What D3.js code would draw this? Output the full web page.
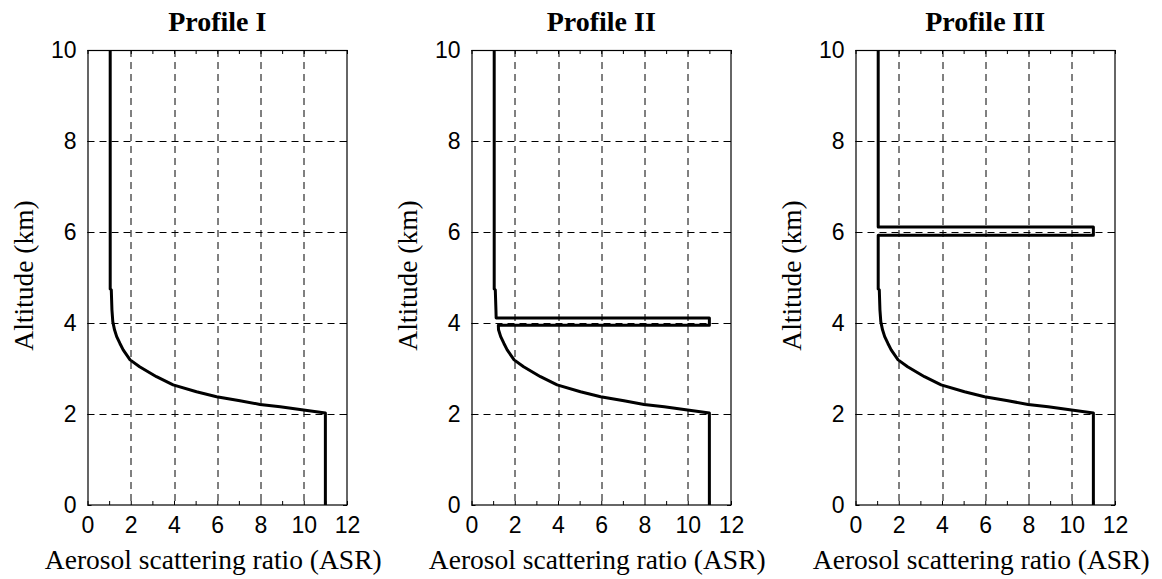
<!DOCTYPE html>
<html>
<head>
<meta charset="utf-8">
<script src="https://cdn.jsdelivr.net/npm/d3@7"></script>
<style>
  html, body { margin: 0; padding: 0; background: #fff; }
  svg { display: block; }
</style>
</head>
<body>
<svg id="chart" width="1162" height="579"></svg>
<script>
// ---- Data ----
const titles = ["Profile I", "Profile II", "Profile III"];
const xLabel = "Aerosol scattering ratio (ASR)";
const yLabel = "Altitude (km)";
const xTickValues = [0, 1, 2, 3, 4, 5, 6, 7, 8, 9, 10, 11, 12];
const xTickLabels = ["0", "", "2", "", "4", "", "6", "", "8", "", "10", "", "12"];
const yTickValues = [0, 2, 4, 6, 8, 10];
const xGrid = [2, 4, 6, 8, 10];
const yGrid = [2, 4, 6, 8];

// Profile I : altitude (km) and ASR
const altI = [0, 2.02, 2.09, 2.16, 2.21, 2.29, 2.38, 2.49, 2.64, 2.82, 3.04, 3.19, 3.41, 3.55, 3.70, 3.85, 4.03, 4.29, 4.73, 4.75, 10];
const asrI = [11, 11, 9.99, 8.91, 7.98, 7.05, 5.97, 5.04, 3.96, 3.19, 2.41, 1.97, 1.65, 1.50, 1.35, 1.25, 1.17, 1.13, 1.10, 1.05, 1.05];

// Profile II : same background with a thin layer near 4 km
const altII = [0, 2.02, 2.09, 2.16, 2.21, 2.29, 2.38, 2.49, 2.64, 2.82, 3.04, 3.19, 3.41, 3.55, 3.70, 3.85, 3.95, 3.95, 4.11, 4.11, 4.29, 4.73, 4.75, 10];
const asrII = [11, 11, 9.99, 8.91, 7.98, 7.05, 5.97, 5.04, 3.96, 3.19, 2.41, 1.97, 1.65, 1.50, 1.35, 1.25, 1.24, 11, 11, 1.14, 1.13, 1.10, 1.05, 1.05];

// Profile III : same background with a thin layer near 6 km
const altIII = [0, 2.02, 2.09, 2.16, 2.21, 2.29, 2.38, 2.49, 2.64, 2.82, 3.04, 3.19, 3.41, 3.55, 3.70, 3.85, 4.03, 4.29, 4.73, 4.75, 5.93, 5.93, 6.11, 6.11, 10];
const asrIII = [11, 11, 9.99, 8.91, 7.98, 7.05, 5.97, 5.04, 3.96, 3.19, 2.41, 1.97, 1.65, 1.50, 1.35, 1.25, 1.17, 1.13, 1.10, 1.05, 1.05, 11, 11, 1.05, 1.05];

const profileAlt = [altI, altII, altIII];
const profileAsr = [asrI, asrII, asrIII];

// ---- Layout ----
const panelLeft = [87.5, 471.5, 855.5];
const plotTop = 50;
const plotW = 259.5;
const plotH = 455;

const svg = d3.select("#chart");
const x = d3.scaleLinear().domain([0, 12]).range([0, plotW]);
const y = d3.scaleLinear().domain([0, 10]).range([plotH, 0]);

const sans = "'Liberation Sans', Arial, Helvetica, sans-serif";
const serif = "'Liberation Serif', 'Times New Roman', Times, serif";

titles.forEach((title, i) => {
  const g = svg.append("g").attr("transform", `translate(${panelLeft[i]},${plotTop})`);

  // grid
  g.append("g").selectAll("line.vg").data(xGrid).join("line")
    .attr("x1", d => Math.round(x(d)) + 0.5).attr("x2", d => Math.round(x(d)) + 0.5)
    .attr("y1", 0).attr("y2", plotH)
    .attr("stroke", "#000").attr("stroke-width", 1).attr("stroke-dasharray", "7,5");
  g.append("g").selectAll("line.hg").data(yGrid).join("line")
    .attr("y1", d => Math.round(y(d)) + 0.5).attr("y2", d => Math.round(y(d)) + 0.5)
    .attr("x1", 0).attr("x2", plotW)
    .attr("stroke", "#000").attr("stroke-width", 1).attr("stroke-dasharray", "7,5");

  // axes
  const fmtX = (d) => xTickLabels[xTickValues.indexOf(d)];
  const axB = g.append("g").attr("transform", `translate(0,${plotH})`)
    .call(d3.axisBottom(x).tickValues(xTickValues).tickFormat(fmtX).tickSizeInner(-4).tickSizeOuter(0).tickPadding(12));
  const axT = g.append("g")
    .call(d3.axisTop(x).tickValues(xTickValues).tickFormat("").tickSizeInner(-4).tickSizeOuter(0));
  const axL = g.append("g")
    .call(d3.axisLeft(y).tickValues(yTickValues).tickFormat(d3.format("d")).tickSizeInner(-4).tickSizeOuter(0).tickPadding(11));
  const axR = g.append("g").attr("transform", `translate(${plotW},0)`)
    .call(d3.axisRight(y).tickValues(yTickValues).tickFormat("").tickSizeInner(-4).tickSizeOuter(0));
  [axB, axT, axL, axR].forEach(a => {
    a.select(".domain").remove();
    a.selectAll(".tick line").attr("stroke", "#000").attr("stroke-width", 1);
    a.selectAll("text").attr("font-family", sans).attr("font-size", 23).attr("fill", "#000");
  });

  // frame
  g.append("rect").attr("x", 0.5).attr("y", 0.5).attr("width", plotW - 0.5).attr("height", plotH - 0.5)
    .attr("fill", "none").attr("stroke", "#000").attr("stroke-width", 1.2);

  // profile line
  const pts = profileAlt[i].map((a, k) => [profileAsr[i][k], a]);
  g.append("path").datum(pts)
    .attr("d", d3.line().x(d => x(d[0])).y(d => y(d[1])))
    .attr("fill", "none").attr("stroke", "#000").attr("stroke-width", 3)
    .attr("stroke-linejoin", "round");

  // title
  svg.append("text").attr("x", panelLeft[i] + plotW / 2).attr("y", 31)
    .attr("text-anchor", "middle").attr("font-family", serif).attr("font-weight", "bold")
    .attr("font-size", 28).text(title);

  // x label
  svg.append("text").attr("x", panelLeft[i] + plotW / 2 - 4).attr("y", 569)
    .attr("text-anchor", "middle").attr("font-family", serif).attr("font-size", 27.5).text(xLabel);

  // y label
  svg.append("text").attr("transform", `translate(${panelLeft[i] - 55},${plotTop + plotH / 2 - 2}) rotate(-90)`)
    .attr("text-anchor", "middle").attr("font-family", serif).attr("font-size", 27.5).text(yLabel);
});
</script>
</body>
</html>
